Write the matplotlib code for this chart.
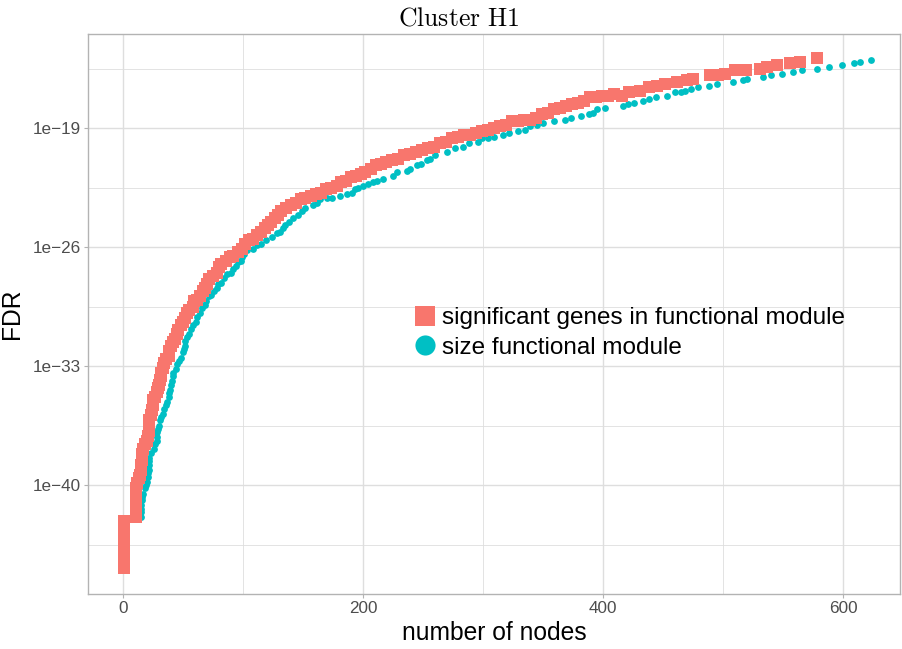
import numpy as np
import matplotlib
matplotlib.use("Agg")
import matplotlib.pyplot as plt
from matplotlib.lines import Line2D
from matplotlib.ticker import FixedLocator, FixedFormatter, NullFormatter

# ---- data (x = number of nodes, y = log10(FDR)) ----
sig_nodes = [1]*13 + [11]*8 + [
    12, 13, 14, 15, 15, 16, 16, 17, 18, 20, 21, 22, 22, 22, 23, 24, 25, 25, 27, 28,
    29, 30, 31, 32, 32, 33, 34, 36, 38, 38, 40, 42, 43, 45, 46, 48, 50, 52, 53, 55,
    58, 59, 62, 64, 67, 68, 70, 72, 75, 78, 80, 82, 86, 89, 92, 96, 99, 102, 105, 108,
    112, 115, 118, 121, 123, 127, 129, 132, 136, 140, 144, 148, 152, 157, 161, 165, 169, 173, 178, 182,
    186, 190, 194, 198, 202, 207, 211, 215, 219, 224, 229, 234, 239, 244, 249, 254, 259, 264, 269, 274,
    279, 284, 289, 294, 299, 304, 309, 314, 319, 324, 329, 334, 339, 344, 349, 354, 359, 364, 369, 374,
    379, 384, 389, 394, 399, 404, 409, 416, 422, 431, 438, 445, 452, 462, 470, 475, 489, 496, 502, 510,
    519, 531, 537, 545, 556, 564, 578]
sig_log10_fdr = [
    -44.9, -44.7, -44.5, -44.2, -44.0, -43.8, -43.5, -43.3, -43.1, -42.8, -42.6, -42.4, -42.1,
    -41.9, -41.6, -41.4, -41.2, -40.9, -40.7, -40.5, -40.2,
    -39.9, -39.6, -39.4, -39.1, -38.8, -38.5, -38.2, -37.9, -37.6, -37.4, -37.1, -36.8, -36.5, -36.2, -35.9, -35.6, -35.3, -35.0, -34.8, -34.5,
    -34.3, -34.1, -33.8, -33.6, -33.4, -33.1, -32.8, -32.6, -32.4, -32.1, -31.8, -31.6, -31.4, -31.1, -30.9, -30.6, -30.4, -30.2, -29.9, -29.7,
    -29.5, -29.2, -29.1, -28.9, -28.6, -28.4, -28.2, -27.9, -27.7, -27.5, -27.2, -27.0, -26.8, -26.6, -26.5, -26.3, -26.1, -25.8, -25.6, -25.5,
    -25.3, -25.1, -24.9, -24.7, -24.5, -24.3, -24.1, -23.9, -23.7, -23.5, -23.4, -23.2, -23.1, -23.0, -22.9, -22.8, -22.6, -22.5, -22.4, -22.2,
    -22.1, -21.9, -21.8, -21.7, -21.6, -21.4, -21.2, -21.1, -21.0, -20.9, -20.8, -20.6, -20.5, -20.4, -20.3, -20.2, -20.1, -19.9, -19.8, -19.6,
    -19.5, -19.4, -19.4, -19.3, -19.2, -19.1, -19.0, -18.9, -18.8, -18.6, -18.6, -18.5, -18.5, -18.4, -18.2, -18.1, -17.9, -17.8, -17.7, -17.6,
    -17.5, -17.4, -17.2, -17.2, -17.1, -17.1, -17.0, -17.1, -16.9, -16.8, -16.6, -16.5, -16.4, -16.3, -16.2, -16.1, -15.9, -15.9, -15.8, -15.6,
    -15.6, -15.5, -15.4, -15.3, -15.2, -15.1, -14.9]

size_nodes = [
    15, 15, 15, 15, 16, 16, 17, 18, 19, 20, 21, 21, 22, 22, 22, 22, 23, 26, 27, 28,
    28, 28, 29, 30, 31, 32, 33, 34, 36, 37, 38, 38, 39, 40, 41, 42, 42, 44, 45, 47,
    48, 50, 51, 52, 52, 53, 55, 57, 58, 61, 62, 64, 66, 68, 69, 72, 73, 76, 78, 79,
    82, 84, 87, 90, 92, 94, 96, 98, 99, 101, 103, 108, 112, 115, 119, 124, 128, 131, 133, 135,
    138, 142, 146, 149, 152, 158, 162, 164, 170, 174, 181, 187, 191, 193, 196, 200, 204, 208, 212, 217,
    225, 228, 237, 239, 245, 248, 253, 256, 260, 270, 277, 283, 288, 296, 299, 304, 309, 317, 322, 329,
    335, 339, 345, 350, 359, 368, 373, 382, 388, 392, 395, 402, 417, 421, 426, 433, 438, 444, 453, 460,
    465, 468, 473, 479, 488, 495, 508, 517, 520, 533, 540, 549, 558, 566, 578, 588, 599, 609, 614, 623]
size_log10_fdr = [
    -41.9, -41.6, -41.4, -41.2, -40.9, -40.7, -40.5, -40.2, -40.0, -39.8, -39.5, -39.3, -39.1, -38.8, -38.6, -38.4, -38.1, -37.9, -37.6, -37.4,
    -37.2, -36.9, -36.7, -36.5, -36.2, -36.0, -35.8, -35.5, -35.3, -35.1, -34.8, -34.6, -34.4, -34.1, -33.9, -33.6, -33.4, -33.2, -32.9, -32.7,
    -32.5, -32.2, -32.0, -31.8, -31.5, -31.3, -31.1, -30.8, -30.6, -30.4, -30.1, -29.9, -29.6, -29.4, -29.2, -28.9, -28.8, -28.6, -28.4, -28.2,
    -28.1, -27.8, -27.6, -27.5, -27.3, -27.1, -26.9, -26.8, -26.6, -26.4, -26.2, -26.1, -25.9, -25.8, -25.6, -25.4, -25.2, -25.1, -24.9, -24.7,
    -24.5, -24.3, -24.1, -23.9, -23.7, -23.5, -23.4, -23.2, -23.1, -23.1, -23.0, -22.9, -22.8, -22.6, -22.5, -22.4, -22.3, -22.2, -22.1, -22.0,
    -21.8, -21.6, -21.5, -21.4, -21.2, -21.1, -20.9, -20.8, -20.6, -20.4, -20.2, -20.1, -19.9, -19.8, -19.6, -19.6, -19.5, -19.4, -19.3, -19.2,
    -19.1, -18.9, -18.8, -18.7, -18.6, -18.5, -18.4, -18.3, -18.2, -18.1, -17.9, -17.8, -17.7, -17.6, -17.5, -17.4, -17.3, -17.2, -17.1, -16.9,
    -16.9, -16.8, -16.7, -16.6, -16.5, -16.4, -16.3, -16.2, -16.1, -16.0, -15.9, -15.8, -15.7, -15.6, -15.5, -15.4, -15.3, -15.2, -15.1, -15.0]

series_labels = ["significant genes in functional module", "size functional module"]
x_ticks = [0, 200, 400, 600]
x_minor = [100, 300, 500]
y_tick_exp = [-19, -26, -33, -40]
y_minor_exp = [-15.5, -22.5, -29.5, -36.5, -43.5]
y_tick_labels = ["1e\u221219", "1e\u221226", "1e\u221233", "1e\u221240"]

RED = "#F8766D"
CYAN = "#00BFC4"
GRID = "#DEDEDE"
BORDER = "#B3B3B3"

plt.rcParams['font.family'] = ['Liberation Sans', 'DejaVu Sans']
plt.rcParams['mathtext.fontset'] = 'cm'

W, H = 902, 649
fig = plt.figure(figsize=(W/100, H/100), dpi=100)
L, R, T, B = 88, 900, 34, 594
ax = fig.add_axes([L/W, 1 - B/H, (R-L)/W, (B-T)/H])

sig_fdr = 10.0 ** np.array(sig_log10_fdr)
size_fdr = 10.0 ** np.array(size_log10_fdr)

ax.scatter(size_nodes, size_fdr, s=24, marker='o', color=CYAN, linewidths=0, zorder=3)
ax.scatter(sig_nodes, sig_fdr, s=66, marker='s', color=RED, linewidths=0, zorder=4)

ax.set_yscale('log')
ax.set_xlim(-29.2, 647.5)
ax.set_ylim(10**-46.41, 10**-13.47)

ax.xaxis.set_major_locator(FixedLocator(x_ticks))
ax.xaxis.set_minor_locator(FixedLocator(x_minor))
ax.set_xticklabels([str(v) for v in x_ticks])
ax.yaxis.set_major_locator(FixedLocator([10.0**e for e in y_tick_exp]))
ax.yaxis.set_major_formatter(FixedFormatter(y_tick_labels))
ax.yaxis.set_minor_locator(FixedLocator([10.0**e for e in y_minor_exp]))
ax.yaxis.set_minor_formatter(NullFormatter())

ax.grid(True, which='major', color=GRID, linewidth=1.0, zorder=0)
ax.grid(True, which='minor', color=GRID, linewidth=0.6, zorder=0)
ax.set_axisbelow(True)

for sp in ax.spines.values():
    sp.set_color(BORDER)
    sp.set_linewidth(1.0)

ax.tick_params(which='major', length=3, width=0.8, color=BORDER, labelcolor='#4D4D4D',
               labelsize=12.3, pad=2)
ax.tick_params(which='minor', length=0)

ax.set_xlabel("number of nodes", fontsize=17.7, color='black', labelpad=4)
ax.set_ylabel("FDR", fontsize=17.7, color='black', labelpad=6)

fig.text(459/W, 1 - 18/H, r"$\mathrm{Cluster\ H1}$", ha='center', va='center', fontsize=18.5)

handles = [Line2D([], [], linestyle='none', marker='s', markersize=14.5, color=RED, markeredgewidth=0),
           Line2D([], [], linestyle='none', marker='o', markersize=14.5, color=CYAN, markeredgewidth=0)]
ax.legend(handles, series_labels, loc='center left', bbox_to_anchor=((413-L)/(R-L), (B-333)/(B-T)),
          frameon=False, fontsize=17.5, handlelength=1.0, handletextpad=0.2, borderpad=0,
          borderaxespad=0, labelspacing=0.3)

fig.savefig("out.png", dpi=100)
